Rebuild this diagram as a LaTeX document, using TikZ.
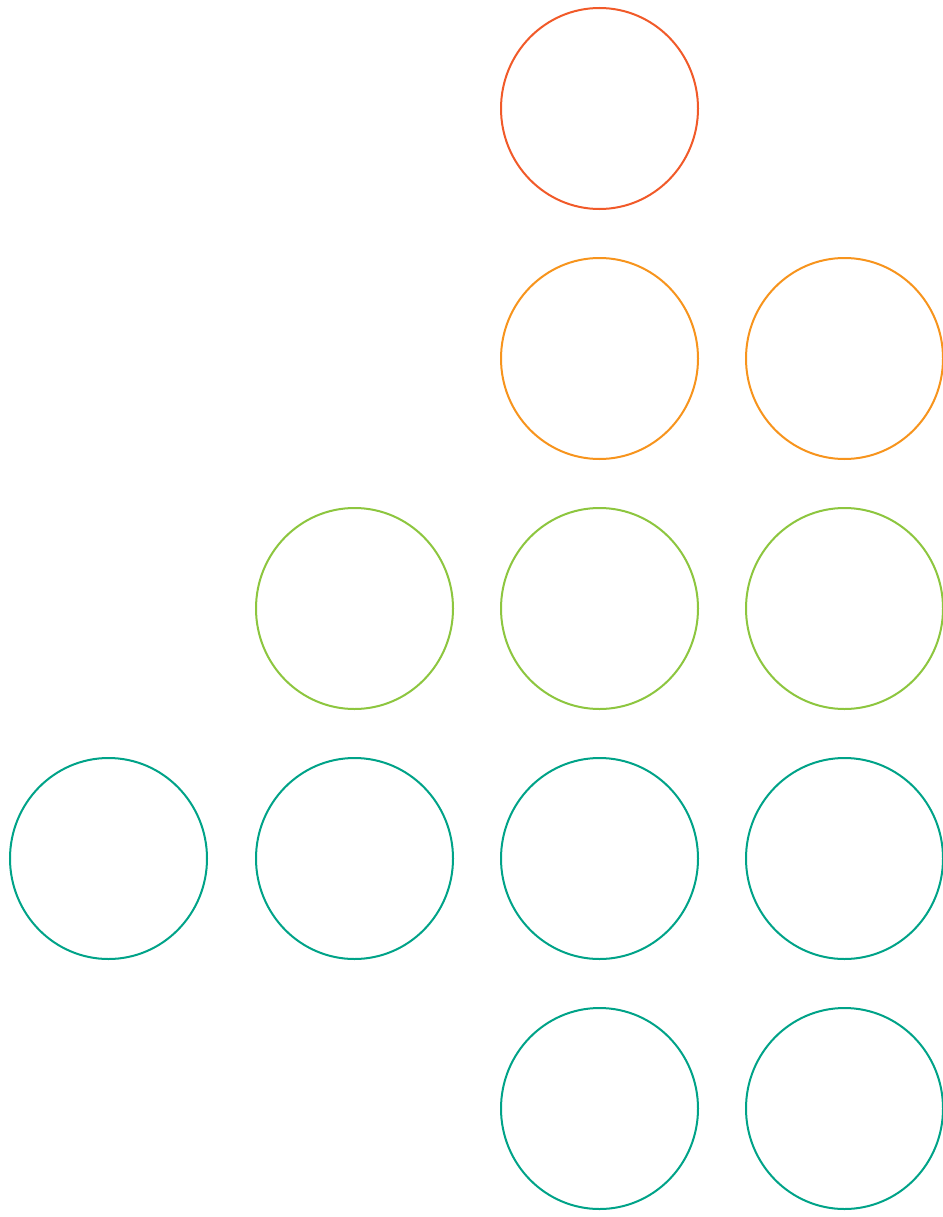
\documentclass[tikz,border=0pt]{standalone}
\definecolor{cred}{HTML}{F15A29}
\definecolor{corange}{HTML}{F7941D}
\definecolor{cgreen}{HTML}{8DC63F}
\definecolor{cteal}{HTML}{00A388}
\tikzset{
  ring/.style={draw=#1, line width=2pt}
}
\begin{document}
\begin{tikzpicture}[x=1pt,y=-1pt]
\useasboundingbox[fill=white] (0,0) rectangle (942,1217);
\coordinate (r1) at (599.5,108.5);
\coordinate (o1) at (599.5,358.5);
\coordinate (o2) at (844.5,358.5);
\coordinate (g0) at (354.5,608.5);
\coordinate (g1) at (599.5,608.5);
\coordinate (g2) at (844.5,608.5);
\coordinate (t00) at (108.5,858.5);
\coordinate (t0) at (354.5,858.5);
\coordinate (t1) at (599.5,858.5);
\coordinate (t2) at (844.5,858.5);
\coordinate (b1) at (599.5,1108.5);
\coordinate (b2) at (844.5,1108.5);
\foreach \n/\c in {r1/cred,o1/corange,o2/corange,g0/cgreen,g1/cgreen,g2/cgreen,t00/cteal,t0/cteal,t1/cteal,t2/cteal,b1/cteal,b2/cteal}
  \draw[ring=\c] (\n) ellipse [x radius=98.5, y radius=100.5];
\end{tikzpicture}
\end{document}
